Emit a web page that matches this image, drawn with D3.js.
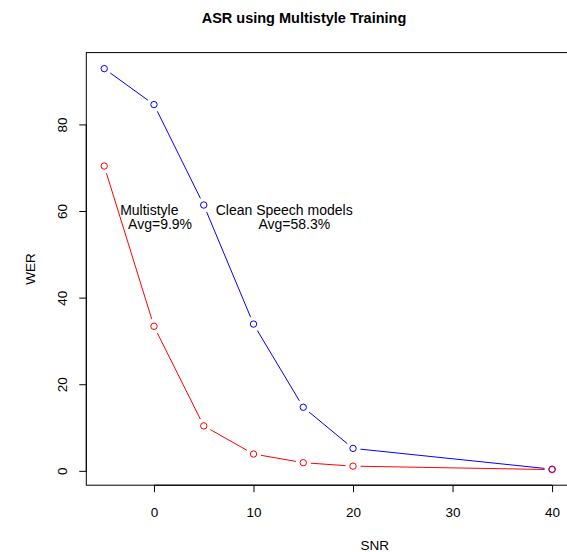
<!DOCTYPE html>
<html><head><meta charset="utf-8">
<script src="https://cdn.jsdelivr.net/npm/d3@7"></script>
<style>body{margin:0;background:#fff}svg{display:block;font-family:"Liberation Sans",Arial,sans-serif}</style>
</head><body>
<svg id="c" width="567" height="552"></svg>
<script>
const snr = [-5, 0, 5, 10, 15, 20, 40];
const cleanWER = [93, 84.7, 61.5, 34, 14.8, 5.3, 0.5];
const multiWER = [70.5, 33.5, 10.5, 4, 2, 1.2, 0.4];
const xTicks = [0, 10, 20, 30, 40];
const yTicks = [0, 20, 40, 60, 80];
const title = "ASR using Multistyle Training";
const xLabel = "SNR", yLabel = "WER";
const notes = [
  {x: -3.4, y: 59.2, t: "Multistyle"},
  {x: -2.6, y: 55.9, t: "Avg=9.9%"},
  {x: 6.2, y: 59.2, t: "Clean Speech models"},
  {x: 10.5, y: 55.9, t: "Avg=58.3%"}
];

const svg = d3.select("#c");
const L = 86.3, R = 570, T = 52.6, B = 485.2;
const x = d3.scaleLinear().domain([-6.8, 41.8]).range([L, R]);
const y = d3.scaleLinear().domain([-3.2, 96.7]).range([B, T]);

svg.append("text").attr("x", 304).attr("y", 23).attr("text-anchor", "middle")
  .attr("font-weight", "bold").attr("font-size", 14.5).text(title);

svg.append("rect").attr("x", L).attr("y", T).attr("width", R - L).attr("height", B - T)
  .attr("fill", "none").attr("stroke", "#000").attr("stroke-width", 1);

const xa = svg.append("g").attr("transform", `translate(0,${B})`)
  .call(d3.axisBottom(x).tickValues(xTicks).tickSize(7).tickPadding(15).tickFormat(d3.format("d")));
xa.select(".domain").attr("d", `M${x(0)},0H${x(40)}`);
xa.selectAll("text").attr("font-size", 13.5).attr("font-family", "Liberation Sans, Arial");

const ya = svg.append("g").attr("transform", `translate(${L},0)`)
  .call(d3.axisLeft(y).tickValues(yTicks).tickSize(7).tickPadding(0).tickFormat(d3.format("d")));
ya.select(".domain").attr("d", `M0,${y(0)}V${y(80)}`);
ya.selectAll("text").attr("font-size", 13.5).attr("font-family", "Liberation Sans, Arial")
  .attr("text-anchor", "middle").attr("x", 0).attr("dy", 0)
  .attr("transform", d => `translate(-24,${y(d)}) rotate(-90)`).attr("y", 0);
ya.selectAll(".tick").attr("transform", null);
ya.selectAll(".tick line").attr("y1", d => y(d)).attr("y2", d => y(d));
ya.selectAll(".tick text").attr("dominant-baseline", "auto").attr("dy", "0.35em");

svg.append("text").attr("x", (L + 567) / 2 + 48).attr("y", 550).attr("text-anchor", "middle")
  .attr("font-size", 13.5).text(xLabel);
svg.append("text").attr("transform", `translate(35,${(T + B) / 2}) rotate(-90)`)
  .attr("text-anchor", "middle").attr("font-size", 13.5).text(yLabel);

const gap = 7.5;
function series(vals, col) {
  const pts = snr.map((s, i) => [x(s), y(vals[i])]);
  const g = svg.append("g");
  for (let i = 0; i < pts.length - 1; i++) {
    const [x0, y0] = pts[i], [x1, y1] = pts[i + 1];
    const dx = x1 - x0, dy = y1 - y0, len = Math.hypot(dx, dy);
    if (len <= 2 * gap) continue;
    const ux = dx / len, uy = dy / len;
    g.append("line").attr("x1", x0 + ux * gap).attr("y1", y0 + uy * gap)
      .attr("x2", x1 - ux * gap).attr("y2", y1 - uy * gap)
      .attr("stroke", col).attr("stroke-width", 1);
  }
  g.selectAll("circle").data(pts).join("circle").attr("cx", d => d[0]).attr("cy", d => d[1])
    .attr("r", 3.2).attr("fill", "none").attr("stroke", col).attr("stroke-width", 1);
}
series(cleanWER, "#0000ff");
series(multiWER, "#ff0000");

svg.append("g").selectAll("text").data(notes).join("text")
  .attr("x", d => x(d.x)).attr("y", d => y(d.y)).attr("font-size", 14).text(d => d.t);
</script>
</body></html>
